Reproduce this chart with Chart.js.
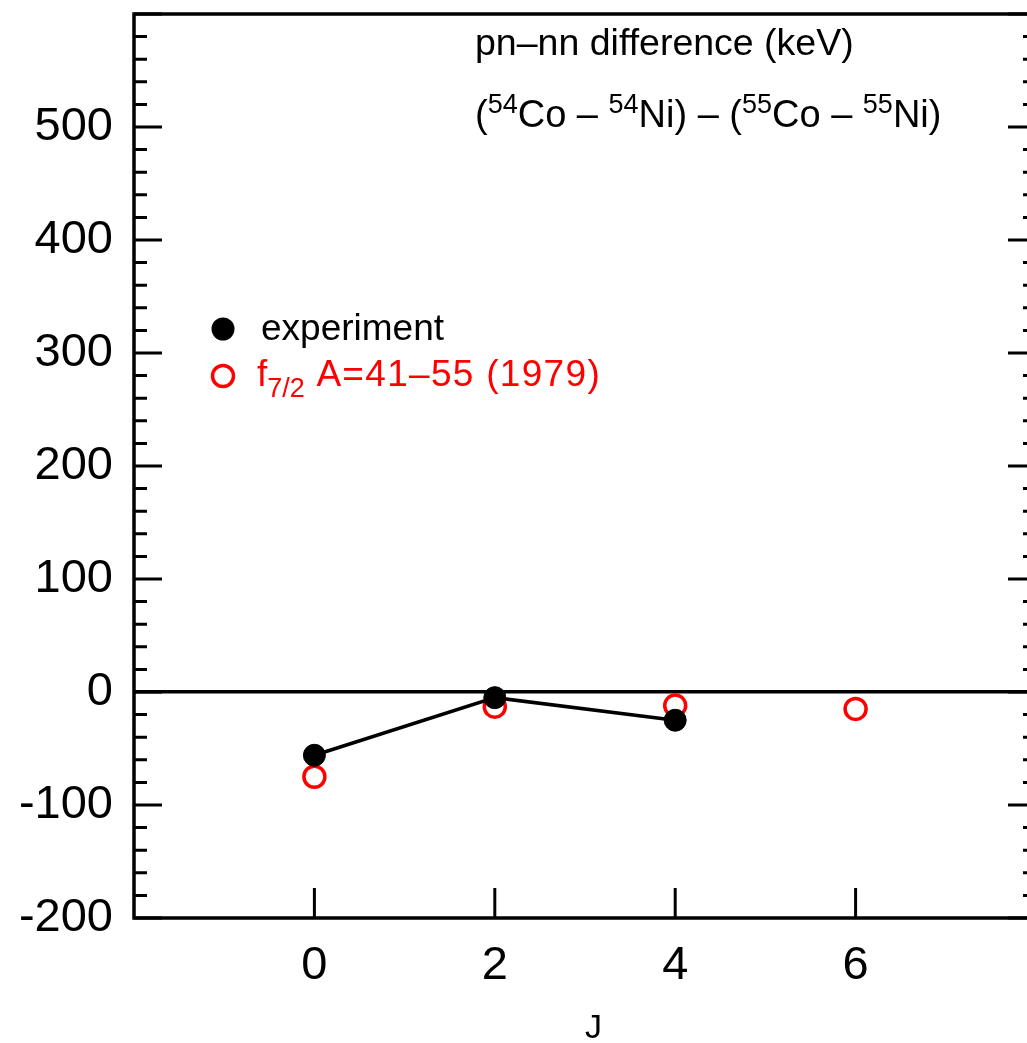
<!DOCTYPE html>
<html>
<head>
<meta charset="utf-8">
<script src="https://cdn.jsdelivr.net/npm/chart.js@4.4.1/dist/chart.umd.min.js"></script>
<style>
  html, body { margin: 0; padding: 0; background: #fff; overflow: hidden; }
  #wrap { width: 1050px; height: 1043px; position: relative; }
</style>
</head>
<body>
<div id="wrap"><canvas id="chart"></canvas></div>
<script>
// ============================================================
// pn-nn difference (keV): experiment vs f7/2 calculation
// ============================================================

const FONT = '"Liberation Sans", Arial, Helvetica, sans-serif';

// J values and energy differences (keV)
const expJ = [0, 2, 4];
const expValues = [-56, -5, -25];

const calcJ = [0, 2, 4, 6];
const calcValues = [-75, -13, -12, -15];

// axis ranges and tick labels
const xRange = [-2, 8];
const yRange = [-200, 600];
const xTickLabels = [0, 2, 4, 6];
const yTickLabels = [-200, -100, 0, 100, 200, 300, 400, 500];

const xTitle = 'J';
const legendLabels = ['experiment', 'A=41\u201355 (1979)'];

// draw text made of pieces with different sizes (super/subscripts)
function drawRich(ctx, x, y, parts, color) {
  ctx.save();
  ctx.fillStyle = color;
  ctx.textBaseline = 'alphabetic';
  ctx.textAlign = 'left';
  parts.forEach(p => {
    ctx.font = p.size + 'px ' + FONT;
    ctx.letterSpacing = (p.sp || 0) + 'px';
    ctx.fillText(p.t, x, y - (p.rise || 0));
    x += ctx.measureText(p.t).width;
  });
  ctx.restore();
}

// kill the auto padding Chart.js adds for edge labels
function noPad(s) {
  s.paddingTop = 0;
  s.paddingBottom = 0;
  s.paddingLeft = 0;
  s.paddingRight = 0;
}

// frame + inward ticks
const framePlugin = {
  id: 'frame',
  afterDraw(chart) {
    const { ctx, chartArea: a, scales } = chart;
    ctx.save();
    ctx.strokeStyle = '#000';
    ctx.lineWidth = 3.5;
    ctx.strokeRect(a.left, a.top, a.right - a.left, a.bottom - a.top);

    ctx.lineWidth = 3;
    scales.y.ticks.forEach(t => {
      const py = scales.y.getPixelForValue(t.value);
      const len = t.value % 100 === 0 ? 28 : 13;
      ctx.beginPath();
      ctx.moveTo(a.left, py); ctx.lineTo(a.left + len, py);
      ctx.moveTo(a.right, py); ctx.lineTo(a.right - len, py);
      ctx.stroke();
    });
    xTickLabels.forEach(v => {
      const px = scales.x.getPixelForValue(v);
      ctx.beginPath();
      ctx.moveTo(px, a.bottom); ctx.lineTo(px, a.bottom - 30);
      ctx.stroke();
    });
    ctx.restore();
  }
};

// title text, axis title and legend
const notesPlugin = {
  id: 'notes',
  afterDraw(chart) {
    const ctx = chart.ctx;
    drawRich(ctx, 475, 55, [{ t: 'pn\u2013nn difference (keV)', size: 37.5 }], '#000');
    drawRich(ctx, 475, 127, [
      { t: '(', size: 38 },
      { t: '54', size: 27, rise: 14 },
      { t: 'Co \u2013 ', size: 38 },
      { t: '54', size: 27, rise: 14 },
      { t: 'Ni) \u2013 (', size: 38 },
      { t: '55', size: 27, rise: 14 },
      { t: 'Co \u2013 ', size: 38 },
      { t: '55', size: 27, rise: 14 },
      { t: 'Ni)', size: 38 },
    ], '#000');

    drawRich(ctx, 585, 1038, [{ t: xTitle, size: 34 }], '#000');

    // legend
    ctx.save();
    ctx.fillStyle = '#000';
    ctx.beginPath();
    ctx.arc(223, 329, 11.5, 0, Math.PI * 2);
    ctx.fill();
    ctx.strokeStyle = '#ff0000';
    ctx.lineWidth = 3.5;
    ctx.beginPath();
    ctx.arc(223, 376, 10.5, 0, Math.PI * 2);
    ctx.stroke();
    ctx.restore();
    drawRich(ctx, 261, 340, [{ t: legendLabels[0], size: 37 }], '#000');
    drawRich(ctx, 257, 386, [
      { t: 'f', size: 37 },
      { t: '7/2', size: 27, rise: -11 },
      { t: ' ' + legendLabels[1], size: 37, sp: 1.3 },
    ], '#ff0000');
  }
};

new Chart(document.getElementById('chart'), {
  type: 'scatter',
  data: {
    datasets: [
      {
        label: 'experiment',
        data: expJ.map((j, i) => ({ x: j, y: expValues[i] })),
        showLine: true,
        borderColor: '#000',
        borderWidth: 3.5,
        pointRadius: 11,
        pointBorderWidth: 1,
        pointBackgroundColor: '#000',
        pointBorderColor: '#000',
      },
      {
        label: 'f7/2 A=41-55 (1979)',
        data: calcJ.map((j, i) => ({ x: j, y: calcValues[i] })),
        showLine: false,
        pointRadius: 10.5,
        pointBorderWidth: 3.5,
        pointBackgroundColor: 'rgba(0,0,0,0)',
        pointBorderColor: '#ff0000',
      },
    ],
  },
  options: {
    responsive: true,
    maintainAspectRatio: false,
    animation: false,
    layout: { padding: { top: 12, right: 4, left: 0, bottom: 0 } },
    plugins: {
      legend: { display: false },
      tooltip: { enabled: false },
    },
    scales: {
      x: {
        min: xRange[0],
        max: xRange[1],
        afterFit: s => { s.height = 125; noPad(s); },
        afterBuildTicks: s => { s.ticks = xTickLabels.map(v => ({ value: v })); },
        border: { display: false },
        grid: { display: false, drawTicks: false },
        ticks: {
          color: '#000',
          padding: 20,
          maxRotation: 0,
          font: { family: FONT, size: 47 },
        },
      },
      y: {
        min: yRange[0],
        max: yRange[1],
        afterFit: s => { s.width = 134; noPad(s); },
        border: { display: false },
        grid: {
          drawTicks: false,
          lineWidth: 3.5,
          color: c => (c.tick && c.tick.value === 0 ? '#000' : 'rgba(0,0,0,0)'),
        },
        ticks: {
          stepSize: 20,
          color: '#000',
          padding: 21,
          autoSkip: false,
          font: { family: FONT, size: 47 },
          callback: v => (yTickLabels.includes(v) ? String(v) : ''),
        },
      },
    },
  },
  plugins: [framePlugin, notesPlugin],
});
</script>
</body>
</html>
